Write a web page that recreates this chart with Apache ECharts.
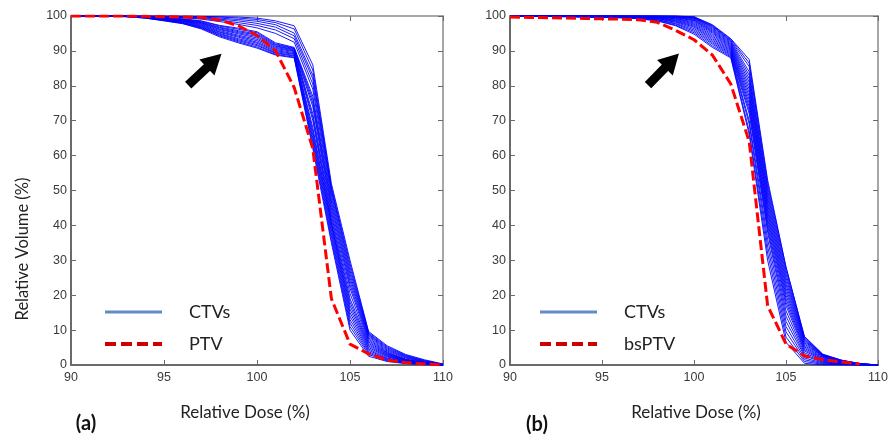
<!DOCTYPE html>
<html>
<head>
<meta charset="utf-8">
<script src="https://cdn.jsdelivr.net/npm/echarts@6/dist/echarts.min.js"></script>
<style>
html,body{margin:0;padding:0;background:#fff;}
#chart{width:891px;height:439px;}
</style>
</head>
<body>
<div id="chart"></div>
<script>
// Relative dose grid (%)
const dose = [90,91,92,93,94,95,96,97,98,99,100,101,102,103,104,105,106,107,108,109,110];
const xTicks = [90,95,100,105,110];
const yTicks = [0,10,20,30,40,50,60,70,80,90,100];

// Panel (a): CTV DVH curves (relative volume %)
const ctvA1  = [100,100,100,99.8,99.4,98.6,97.8,96.3,94.0,92.3,90.8,88.8,88.0,62,35,10,2.5,1.0,0.4,0.1,0];
const ctvA2  = [100,100,100,99.8,99.4,98.7,97.9,96.5,94.3,92.6,91.1,89.0,88.2,63,36,11,3.0,1.2,0.5,0.1,0];
const ctvA3  = [100,100,100,99.8,99.5,98.8,98.0,96.7,94.5,92.9,91.5,89.3,88.5,64,37,12,3.4,1.4,0.6,0.2,0];
const ctvA4  = [100,100,100,99.9,99.5,98.8,98.1,96.8,94.8,93.2,91.8,89.5,88.7,65,38,13,3.8,1.6,0.7,0.2,0];
const ctvA5  = [100,100,100,99.9,99.5,98.9,98.2,97.0,95.0,93.5,92.2,89.8,89.0,66,39,14,4.2,1.8,0.8,0.3,0];
const ctvA6  = [100,100,100,99.9,99.6,99.0,98.4,97.2,95.3,93.9,92.5,90.1,89.2,67,40,15,4.6,2.0,0.9,0.3,0];
const ctvA7  = [100,100,100,99.9,99.6,99.1,98.5,97.4,95.5,94.2,92.9,90.4,89.5,68,40.5,16,5.0,2.3,1.0,0.4,0];
const ctvA8  = [100,100,100,99.9,99.6,99.2,98.6,97.6,95.8,94.5,93.3,90.7,89.8,70,41,17,5.4,2.5,1.1,0.4,0];
const ctvA9  = [100,100,100,100,99.7,99.2,98.7,97.8,96.1,94.9,93.7,91.0,90.0,71,42,18,5.8,2.7,1.2,0.5,0];
const ctvA10 = [100,100,100,100,99.7,99.3,98.8,98.0,96.3,95.2,94.1,91.3,90.2,72,43,19,6.2,2.9,1.3,0.5,0];
const ctvA11 = [100,100,100,100,99.7,99.4,98.9,98.1,96.6,95.5,94.5,91.5,90.4,74,44,20.5,6.6,3.1,1.4,0.6,0];
const ctvA12 = [100,100,100,100,99.8,99.5,99.0,98.3,96.8,95.8,94.8,91.8,90.6,75,45,22,7.0,3.3,1.5,0.6,0];
const ctvA13 = [100,100,100,100,99.8,99.5,99.1,98.5,97.1,96.2,95.2,92.0,90.8,76,46,23,7.4,3.5,1.6,0.7,0];
const ctvA14 = [100,100,100,100,99.8,99.6,99.2,98.6,97.3,96.5,95.5,92.3,91.0,77,47,24,7.8,3.7,1.7,0.7,0.1];
const ctvA15 = [100,100,100,100,99.9,99.7,99.5,99.1,98.4,97.6,96.6,95.0,92.5,79,48,25,8.2,4.0,2.0,0.8,0.1];
const ctvA16 = [100,100,100,100,99.9,99.8,99.6,99.3,98.8,98.1,97.3,96.0,93.5,80.5,49,26,8.5,4.3,2.2,0.9,0.1];
const ctvA17 = [100,100,100,100,100,99.9,99.7,99.5,99.1,98.6,97.9,96.8,94.3,82,50,27,8.8,4.6,2.4,1.0,0.2];
const ctvA18 = [100,100,100,100,100,99.9,99.8,99.7,99.4,99.0,98.5,97.5,95.1,83,50.5,28,9.0,4.9,2.6,1.2,0.2];
const ctvA19 = [100,100,100,100,100,100,99.9,99.8,99.7,99.4,99.0,98.1,96.3,84.5,51,29,9.3,5.2,2.8,1.3,0.2];
const ctvA20 = [100,100,100,100,100,100,100,99.9,99.8,99.7,99.4,98.6,97.2,86,52,30,9.6,5.5,3.0,1.5,0.3];
const ptvA   = [100,100,100,100,99.9,99.8,99.7,99.6,98.8,97.2,94.4,90.0,79.5,62,19,6,3.2,1.4,0.7,0.3,0];

// Panel (b): CTV DVH curves
const ctvB1  = [100,100,99.9,99.8,99.7,99.6,99.5,99.2,98.6,97.2,94.8,91.0,88.0,66,30,6.5,0.5,0,0,0,0];
const ctvB2  = [100,100,99.9,99.8,99.7,99.6,99.5,99.3,98.7,97.4,95.2,91.4,88.3,67,32,8,1,0.2,0,0,0];
const ctvB3  = [100,100,100,99.9,99.8,99.7,99.6,99.4,98.9,97.7,95.6,91.9,88.6,69,34,9.5,1.5,0.4,0.1,0,0];
const ctvB4  = [100,100,100,99.9,99.8,99.7,99.6,99.5,99.0,97.9,96.0,92.3,88.9,70,36,11,2.0,0.6,0.2,0,0];
const ctvB5  = [100,100,100,99.9,99.9,99.8,99.7,99.6,99.2,98.2,96.4,92.7,89.2,72,38,12.5,2.6,0.8,0.2,0,0];
const ctvB6  = [100,100,100,100,99.9,99.8,99.7,99.6,99.3,98.4,96.8,93.1,89.5,73,39,14,3.0,1.0,0.3,0,0];
const ctvB7  = [100,100,100,100,99.9,99.9,99.8,99.7,99.4,98.6,97.1,93.5,89.8,74,40,15.5,3.5,1.2,0.3,0.1,0];
const ctvB8  = [100,100,100,100,100,99.9,99.8,99.7,99.5,98.8,97.4,93.9,90.1,75,41,17,4.0,1.4,0.4,0.1,0];
const ctvB9  = [100,100,100,100,100,99.9,99.9,99.8,99.6,99.0,97.7,94.3,90.4,76,42,18,4.4,1.6,0.5,0.1,0];
const ctvB10 = [100,100,100,100,100,100,99.9,99.9,99.7,99.2,98.0,94.7,90.7,77,43,19,4.8,1.8,0.6,0.1,0];
const ctvB11 = [100,100,100,100,100,100,100,99.9,99.8,99.3,98.3,95.1,91.0,78,44,20,5.2,2.0,0.7,0.2,0];
const ctvB12 = [100,100,100,100,100,100,100,99.9,99.8,99.5,98.6,95.4,91.3,79,45,21,5.6,2.2,0.8,0.2,0];
const ctvB13 = [100,100,100,100,100,100,100,100,99.9,99.6,98.8,95.7,91.6,80,46,22,6.0,2.4,0.9,0.2,0];
const ctvB14 = [100,100,100,100,100,100,100,100,99.9,99.7,99.0,96.0,91.9,81,47,23,6.4,2.5,1.0,0.3,0];
const ctvB15 = [100,100,100,100,100,100,100,100,100,99.8,99.2,96.3,92.2,82,48,24,6.8,2.6,1.1,0.3,0];
const ctvB16 = [100,100,100,100,100,100,100,100,100,99.9,99.4,96.6,92.5,83,49,25,7.1,2.7,1.2,0.3,0];
const ctvB17 = [100,100,100,100,100,100,100,100,100,99.9,99.5,96.9,92.8,84,50,26,7.4,2.8,1.3,0.4,0];
const ctvB18 = [100,100,100,100,100,100,100,100,100,100,99.6,97.1,93.0,85.5,51,27,7.7,2.9,1.3,0.4,0];
const ctvB19 = [100,100,100,100,100,100,100,100,100,100,99.7,97.3,93.3,86.5,52,28,8.0,3.0,1.4,0.4,0];
const ctvB20 = [100,100,100,100,100,100,100,100,100,100,99.8,97.5,93.5,87.5,53,28,8.2,3.1,1.4,0.4,0];
const bsptvB = [99.7,99.6,99.5,99.4,99.3,99.2,99.1,98.9,98.2,95.9,93.2,88.8,80.5,64,17,6,2.6,1.5,0.9,0.3,null];

// Arrow annotations (data coordinates: [dose, volume])
const arrowA = [[96.3, 80.2], [97.7, 87.2]];
const arrowB = [[97.5, 80.2], [98.8, 87.2]];

const ctvsA = [ctvA1,ctvA2,ctvA3,ctvA4,ctvA5,ctvA6,ctvA7,ctvA8,ctvA9,ctvA10,ctvA11,ctvA12,ctvA13,ctvA14,ctvA15,ctvA16,ctvA17,ctvA18,ctvA19,ctvA20];
const ctvsB = [ctvB1,ctvB2,ctvB3,ctvB4,ctvB5,ctvB6,ctvB7,ctvB8,ctvB9,ctvB10,ctvB11,ctvB12,ctvB13,ctvB14,ctvB15,ctvB16,ctvB17,ctvB18,ctvB19,ctvB20];

const pairs = v => dose.map((d, i) => [d, v[i]]);
const tickFont = "'Liberation Sans',Arial,sans-serif";
const textFont = "Lato,'Open Sans',sans-serif";
const axisCol = '#6a6a6a';

function xAxes(grid) {
  const common = {
    type: 'value', gridIndex: grid, min: 90, max: 110, interval: 5,
    splitLine: { show: false },
    axisTick: { show: true, inside: true, length: 5, lineStyle: { color: axisCol, width: 1 } }
  };
  return [
    Object.assign({}, common, {
      position: 'bottom',
      axisLine: { show: true, onZero: false, lineStyle: { color: axisCol, width: 2 } },
      axisLabel: { show: true, color: '#3a3a3a', fontFamily: tickFont, fontSize: 12.5, margin: 6,
        formatter: v => xTicks.includes(v) ? String(v) : '' }
    }),
    Object.assign({}, common, {
      position: 'top',
      axisLine: { show: true, onZero: false, lineStyle: { color: '#8a8a8a', width: 1.5 } },
      axisLabel: { show: false }
    })
  ];
}
function yAxes(grid) {
  const common = {
    type: 'value', gridIndex: grid, min: 0, max: 100, interval: 10,
    splitLine: { show: false },
    axisTick: { show: true, inside: true, length: 5, lineStyle: { color: axisCol, width: 1 } }
  };
  return [
    Object.assign({}, common, {
      position: 'left',
      axisLine: { show: true, onZero: false, lineStyle: { color: axisCol, width: 2 } },
      axisLabel: { show: true, color: '#3a3a3a', fontFamily: tickFont, fontSize: 12.5, margin: 4,
        formatter: v => yTicks.includes(v) ? String(v) : '' }
    }),
    Object.assign({}, common, {
      position: 'right',
      axisLine: { show: true, onZero: false, lineStyle: { color: '#8a8a8a', width: 1.5 } },
      axisLabel: { show: false }
    })
  ];
}

function ctvSeries(list, xi, yi) {
  return list.map(v => ({
    type: 'line', name: 'CTVs', xAxisIndex: xi, yAxisIndex: yi,
    data: pairs(v), symbol: 'none', silent: true, z: 2,
    lineStyle: { color: '#0000ff', width: 1, opacity: 0.9 },
    itemStyle: { color: '#0000ff' }
  }));
}
function redSeries(name, v, xi, yi, arrow) {
  return {
    type: 'line', name: name, xAxisIndex: xi, yAxisIndex: yi,
    data: pairs(v), symbol: 'none', silent: true, z: 3,
    lineStyle: { color: '#ff0000', width: 3, type: [10, 4] },
    itemStyle: { color: '#ff0000' },
    markLine: {
      silent: true, animation: false,
      symbol: ['none', 'triangle'], symbolSize: [22, 20],
      label: { show: false },
      lineStyle: { color: '#000', width: 9, type: 'solid', opacity: 1 },
      emphasis: { disabled: true },
      data: [[{ coord: arrow[0] }, { coord: arrow[1] }]]
    }
  };
}

const hiddenSym = { color: 'rgba(0,0,0,0)', borderWidth: 0, opacity: 0 };
function legendFor(left, redName) {
  return {
    left: left, top: 303, orient: 'vertical', padding: 0,
    itemWidth: 57, itemHeight: 20, itemGap: 14,
    selectedMode: false,
    textStyle: { fontFamily: textFont, fontSize: 18, color: '#222', padding: [0, 0, 0, 22] },
    data: [
      { name: 'CTVs', lineStyle: { color: '#4f81bd', width: 3, type: 'solid' }, itemStyle: hiddenSym },
      { name: redName, lineStyle: { color: '#cc0000', width: 4, type: [11, 5] }, itemStyle: hiddenSym }
    ]
  };
}

const chart = echarts.init(document.getElementById('chart'), null, { renderer: 'canvas' });
chart.setOption({
  animation: false,
  backgroundColor: '#fff',
  grid: [
    { left: 71, top: 16, width: 372, height: 349 },
    { left: 510, top: 16, width: 372, height: 349 }
  ],
  xAxis: xAxes(0).concat(xAxes(1)),
  yAxis: yAxes(0).concat(yAxes(1)),
  legend: [legendFor(103, 'PTV'), legendFor(538, 'bsPTV')],
  graphic: [
    { type: 'text', x: 23, y: 249, rotation: Math.PI / 2,
      style: { text: 'Relative Volume (%)', fontFamily: textFont, fontSize: 16.5, fill: '#222', align: 'center', verticalAlign: 'middle' } },
    { type: 'text', x: 245, y: 413,
      style: { text: 'Relative Dose (%)', fontFamily: textFont, fontSize: 17, fill: '#222', align: 'center', verticalAlign: 'middle' } },
    { type: 'text', x: 696, y: 413,
      style: { text: 'Relative Dose (%)', fontFamily: textFont, fontSize: 17, fill: '#222', align: 'center', verticalAlign: 'middle' } },
    { type: 'text', x: 86, y: 424,
      style: { text: '(a)', fontFamily: textFont, fontSize: 20, fontWeight: 'bold', fill: '#111', align: 'center', verticalAlign: 'middle' } },
    { type: 'text', x: 537, y: 425,
      style: { text: '(b)', fontFamily: textFont, fontSize: 20, fontWeight: 'bold', fill: '#111', align: 'center', verticalAlign: 'middle' } }
  ],
  series: ctvSeries(ctvsA, 0, 0)
    .concat([redSeries('PTV', ptvA, 0, 0, arrowA)])
    .concat(ctvSeries(ctvsB, 2, 2))
    .concat([redSeries('bsPTV', bsptvB, 2, 2, arrowB)])
});
</script>
</body>
</html>
